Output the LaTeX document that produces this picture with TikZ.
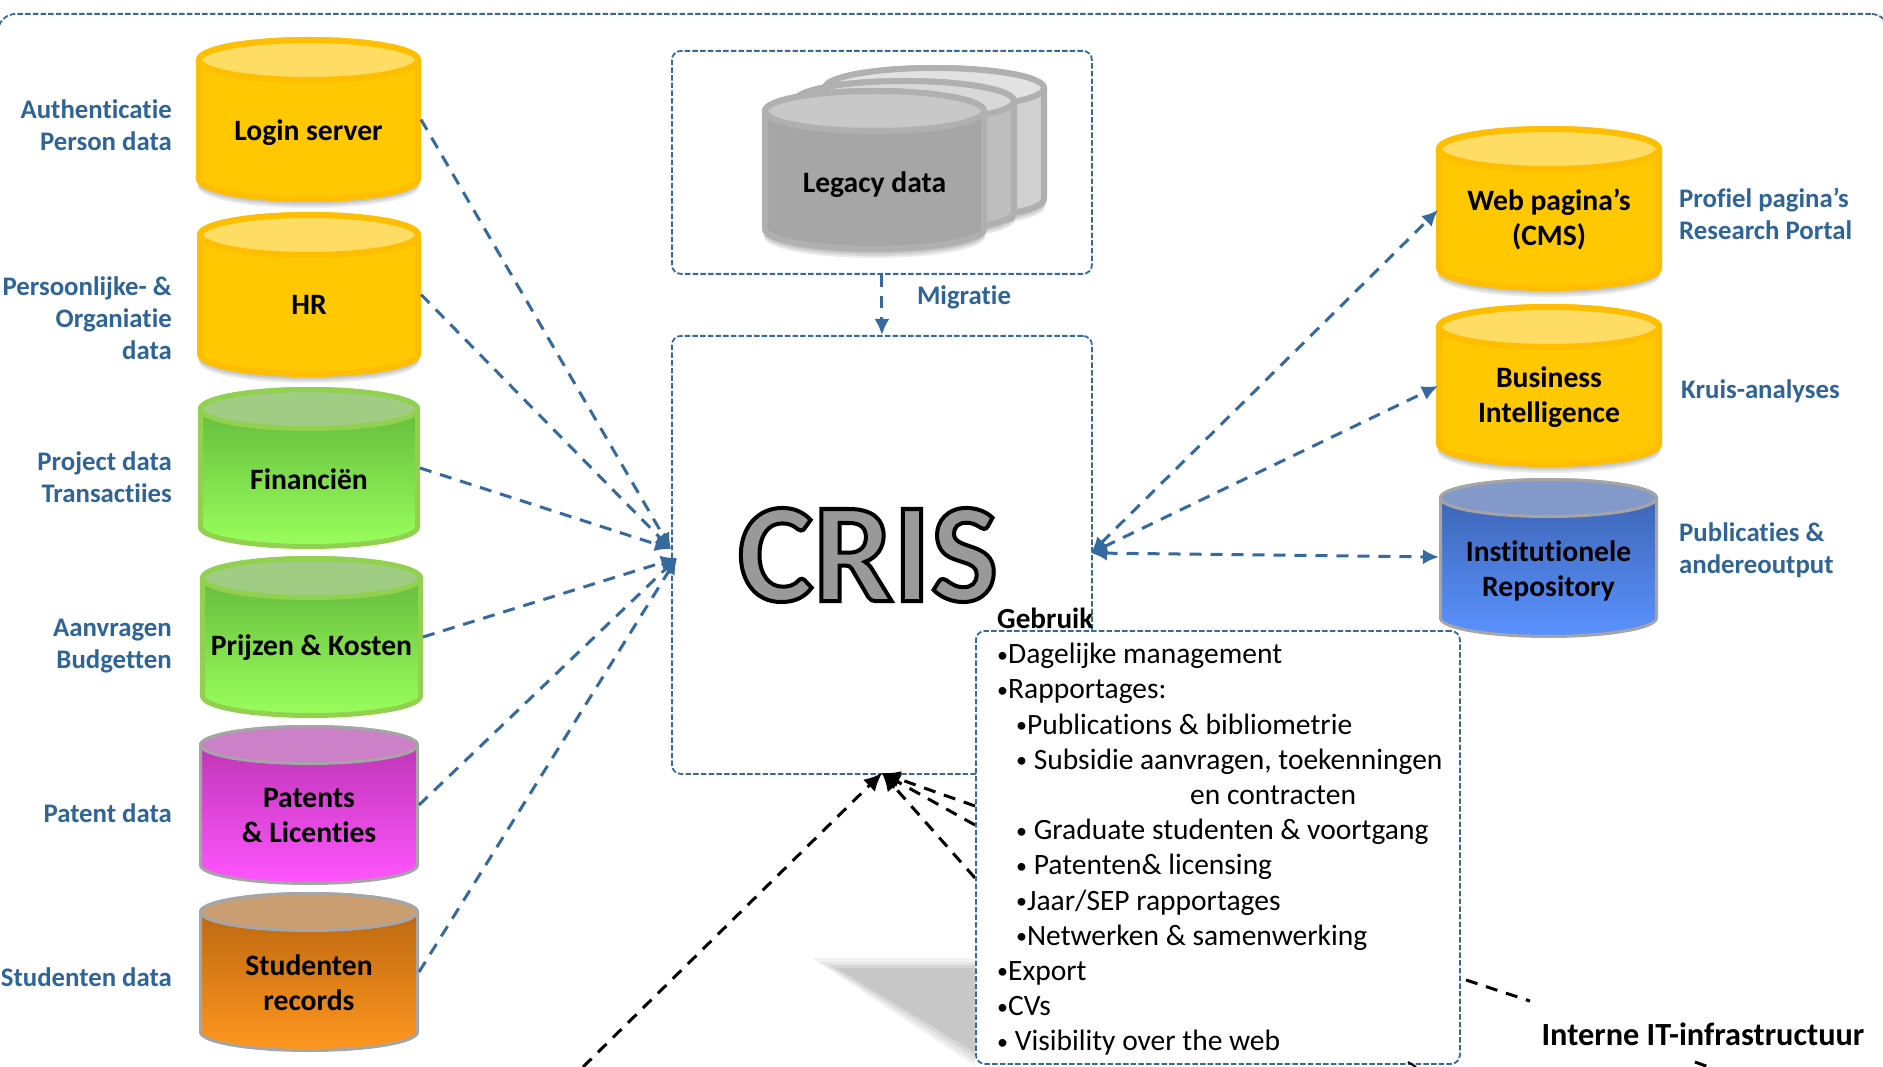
\documentclass[tikz,border=0pt]{standalone}
\usepackage{fontspec}
\setmainfont{Carlito}[Ligatures=CommonOff]
\usetikzlibrary{arrows.meta}
\definecolor{lineblue}{HTML}{366A9F}
\definecolor{textblue}{HTML}{2F6497}
% palettes: edge, top ellipse, body top, body bottom
\definecolor{yellowE}{HTML}{FFBF00}\definecolor{yellowT}{HTML}{FFDC64}\definecolor{yellowA}{HTML}{FFC800}\definecolor{yellowB}{HTML}{FFC800}
\definecolor{greenE}{HTML}{92D050}\definecolor{greenT}{HTML}{A0CC84}\definecolor{greenA}{HTML}{5FB338}\definecolor{greenB}{HTML}{99FF5C}
\definecolor{magE}{HTML}{A5A5A5}\definecolor{magT}{HTML}{CC80C8}\definecolor{magA}{HTML}{B832AE}\definecolor{magB}{HTML}{FF55FF}
\definecolor{orE}{HTML}{A5A5A5}\definecolor{orT}{HTML}{CB9E72}\definecolor{orA}{HTML}{B5620F}\definecolor{orB}{HTML}{FF971F}
\definecolor{bluE}{HTML}{A5A5A5}\definecolor{bluT}{HTML}{8299C9}\definecolor{bluA}{HTML}{3A60AE}\definecolor{bluB}{HTML}{5B92FF}
\definecolor{grayaE}{HTML}{B0B0B0}\definecolor{grayaT}{HTML}{C8C8C8}\definecolor{grayaA}{HTML}{A6A6A6}\definecolor{grayaB}{HTML}{A6A6A6}
\definecolor{graybE}{HTML}{B0B0B0}\definecolor{graybT}{HTML}{D8D8D8}\definecolor{graybA}{HTML}{BEBEBE}\definecolor{graybB}{HTML}{BEBEBE}
\definecolor{graycE}{HTML}{B0B0B0}\definecolor{graycT}{HTML}{E2E2E2}\definecolor{graycA}{HTML}{D0D0D0}\definecolor{graycB}{HTML}{D0D0D0}
\def\lwyellow{6}\def\lwgreen{5}\def\lwmag{3}\def\lwor{3}\def\lwblu{3}\def\lwgraya{6}\def\lwgrayb{6}\def\lwgrayc{6}
\def\shyellow{1}\def\shgreen{0}\def\shmag{0}\def\shor{0}\def\shblu{0}\def\shgraya{1}\def\shgrayb{1}\def\shgrayc{1}
\newcommand{\smallbul}{{\fontsize{22}{0}\selectfont\raisebox{1.5pt}{•}}}
\tikzset{
  boxline/.style={draw=lineblue,line width=1.8pt,dash pattern=on 5.5pt off 2.2pt,rounded corners=9pt},
  link/.style={draw=lineblue,line width=3pt,dash pattern=on 12pt off 9pt,-{Latex[length=16pt,width=15pt]}},
  linkboth/.style={link,{Latex[length=16pt,width=15pt]}-{Latex[length=16pt,width=15pt]}},
  blacklink/.style={draw=black,line width=3pt,dash pattern=on 12pt off 9pt},
  cyltext/.style={font=\fontsize{29.6}{35}\selectfont\bfseries,align=center,inner sep=0pt},
  sidelabel/.style={font=\fontsize{26.8}{32}\selectfont\bfseries,text=textblue,inner sep=0pt},
  leftlabel/.style={sidelabel,align=right,anchor=east},
  rightlabel/.style={sidelabel,align=left,anchor=west},
  anchorbox/.style={inner sep=0pt,outer sep=0pt},
}
% #1 name #2 x1 #3 x2 #4 y1 #5 y2 #6 palette #7 outer ry #8 text y #9 text
\newcommand{\dbcyl}[9]{%
  \pgfmathsetmacro\cylL{\csname lw#6\endcsname}%
  \pgfmathsetmacro\cylxa{#2+\cylL/2}%
  \pgfmathsetmacro\cylxb{#3-\cylL/2}%
  \pgfmathsetmacro\cylya{#4+#7}%
  \pgfmathsetmacro\cylyb{#5-#7}%
  \pgfmathsetmacro\cylcx{(#2+#3)/2}%
  \pgfmathsetmacro\cylrx{(#3-#2-\cylL)/2}%
  \pgfmathsetmacro\cylrr{#7-\cylL/2}%
  \pgfmathsetmacro\cylmid{(#4+#5)/2}%
  \pgfmathsetmacro\cylw{#3-#2}%
  \pgfmathsetmacro\cylh{#5-#4}%
  \if1\csname sh#6\endcsname
    \foreach \cyls in {2,4,6,8}{
      \fill[black,opacity=.08] (\cylxa-1,\cylya+\cyls) -- (\cylxa-1,\cylyb+\cyls) arc[start angle=180,end angle=0,x radius=\cylrx+1,y radius=\cylrr+1] -- (\cylxb+1,\cylya+\cyls) -- cycle;
    }
  \fi
  \path[draw=#6E,line width=\cylL pt,top color=#6A,bottom color=#6B,line join=round]
    (\cylxa,\cylya) -- (\cylxa,\cylyb) arc[start angle=180,end angle=0,x radius=\cylrx,y radius=\cylrr]
    -- (\cylxb,\cylya) arc[start angle=0,end angle=-180,x radius=\cylrx,y radius=\cylrr] -- cycle;
  \path[draw=#6E,line width=\cylL pt,fill=#6T] (\cylcx,\cylya) ellipse[x radius=\cylrx,y radius=\cylrr];
  \node[anchorbox,minimum width=\cylw pt,minimum height=\cylh pt] (#1) at (\cylcx,\cylmid) {};
  \node[cyltext] (#1-t) at (\cylcx,#8) {#9};
}
\begin{document}
\begin{tikzpicture}[x=1pt,y=-1pt]
\useasboundingbox (0,0) rectangle (1883,1067);
\clip (0,0) rectangle (1883,1067);
\fill[white] (0,0) rectangle (1883,1067);
% outer frame
\node[boxline,rounded corners=18pt,minimum width=1891pt,minimum height=1100pt,anchor=north west,inner sep=0pt] (frame) at (-3,13) {};
% shadow wedge under the list box
\fill[black!5] (812,958) -- (975,958) -- (975,1066) -- cycle;
\fill[black!10] (820,962) -- (975,962) -- (975,1062) -- cycle;
\fill[black!16] (828,965) -- (975,965) -- (975,1057) -- cycle;
\fill[black!22] (836,968) -- (975,968) -- (975,1052) -- cycle;
% left column
\dbcyl{login}{196}{421}{37}{202}{yellow}{23}{133}{Login server}
\dbcyl{hr}{197}{421}{212}{377}{yellow}{23}{305}{HR}
\dbcyl{fin}{198}{420}{387}{549}{green}{22}{479}{Financiën}
\dbcyl{prijs}{200}{423}{556}{718}{green}{22}{648}{Prijzen \& Kosten}
\dbcyl{pat}{199}{419}{725}{885}{mag}{20}{816}{Patents\\\& Licenties}
\dbcyl{stud}{199}{419}{892}{1052}{or}{20}{983}{Studenten\\records}
% legacy stack
\dbcyl{legacyc}{822}{1047}{65}{222}{grayc}{23}{140}{}
\dbcyl{legacyb}{792}{1017}{78}{235}{grayb}{23}{150}{}
\dbcyl{legacya}{762}{987}{88}{252}{graya}{23}{185}{Legacy data}
% right column
\dbcyl{web}{1436}{1662}{126}{291}{yellow}{23}{219}{Web pagina’s\\(CMS)}
\dbcyl{bi}{1436}{1662}{304}{467}{yellow}{23}{397}{Business\\Intelligence}
\dbcyl{ir}{1439}{1658}{478}{638}{blu}{20}{571}{Institutionele\\Repository}
% boxes
\node[boxline,minimum width=420pt,minimum height=223pt,anchor=north west,inner sep=0pt] (legacybox) at (671,50) {};
\node[boxline,minimum width=420pt,minimum height=438pt,anchor=north west,inner sep=0pt] (crisbox) at (671,335) {};
\draw[link] (legacybox.south) -- (crisbox.north);
\node[sidelabel] (migr) at (964,297) {Migratie};
% CRIS title
\node[inner sep=0pt,font=\fontsize{142}{142}\selectfont\bfseries] (cris) at (868,555)
  {\special{pdf:code 2 Tr 4 w 0 0 0 RG 0.6 0.6 0.6 rg}CRIS\special{pdf:code 0 Tr}};
% hubs
\coordinate (hubl) at (677,558);
\coordinate (hubla) at (671,549);
\coordinate (hubr) at (1091,553);
\draw[link] (login.east) -- (hubla);
\draw[link] (hr.east) -- (hubla);
\draw[link] (fin.east) -- (hubla);
\draw[link] (prijs.east) -- (hubl);
\draw[link] (pat.east) -- (hubl);
\draw[link] (stud.east) -- (hubl);
\coordinate (webend) at (1438,210);
\coordinate (biend) at (1438,386);
\coordinate (irend) at (1439,557);
\draw[linkboth] (hubr) -- (webend);
\draw[linkboth] (hubr) -- (biend);
\draw[linkboth] (hubr) -- (irend);
% black arrows to CRIS
\coordinate (tip) at (882,773);
\coordinate (fromall) at (583,1067);
\coordinate (froma) at (975,806);
\coordinate (fromb) at (975,825);
\coordinate (fromc) at (975,878);
\foreach \blackfrom in {fromall,froma,fromb,fromc}
  \draw[blacklink,-{Latex[length=18pt,width=17pt]}] (\blackfrom) -- (tip);
% usage box
\node[boxline,fill=white,minimum width=484pt,minimum height=433pt,anchor=north west,inner sep=0pt] (usebox) at (975,630) {};
\node[anchor=base west,inner sep=0pt,font=\fontsize{29.2}{35}\selectfont\bfseries] (gebruik) at (997,628) {Gebruik};
\node[anchor=north west,inner sep=0pt,align=left,font=\fontsize{29.5}{35.2}\selectfont] (uselist) at (997,643) {%
\smallbul Dagelijke management\\
\smallbul Rapportages:\\
\hspace*{19pt}\smallbul Publications \& bibliometrie\\
\hspace*{19pt}\smallbul{} Subsidie aanvragen, toekenningen\\
\hspace*{193pt}en contracten\\
\hspace*{19pt}\smallbul{} Graduate studenten \& voortgang\\
\hspace*{19pt}\smallbul{} Patenten\& licensing\\
\hspace*{19pt}\smallbul Jaar/SEP rapportages\\
\hspace*{19pt}\smallbul Netwerken \& samenwerking\\
\smallbul Export\\
\smallbul CVs\\
\smallbul{} Visibility over the web};
% black dashes toward the IT label
\node[inner sep=0pt,font=\fontsize{32.3}{35}\selectfont\bfseries] (itlabel) at (1703,1034) {Interne IT-infrastructuur};
\coordinate (ita) at (1466,980);
\coordinate (itb) at (1530,1001);
\draw[blacklink] (ita) -- (itb);
\coordinate (itc) at (1695,1062);
\coordinate (itd) at (1714,1069);
\draw[blacklink] (itc) -- (itd);
\coordinate (tica) at (1408,1062);
\coordinate (ticb) at (1416,1067);
\draw[black,line width=2pt] (tica) -- (ticb);
% left labels
\node[leftlabel] (lb1) at (172,125.5) {Authenticatie\\Person data};
\node[leftlabel] (lb2) at (172,318) {Persoonlijke- \&\\Organiatie\\data};
\node[leftlabel] (lb3) at (172,477) {Project data\\Transactiies};
\node[leftlabel] (lb4) at (172,646) {Aanvragen\\Budgetten};
\node[leftlabel] (lb5) at (172,813) {Patent data};
\node[leftlabel] (lb6) at (172,977) {Studenten data};
% right labels
\node[rightlabel] (rb1) at (1679,214) {Profiel pagina’s\\Research Portal};
\node[rightlabel] (rb2) at (1681,391) {Kruis-analyses};
\node[rightlabel] (rb3) at (1679,550) {Publicaties \&\\andereoutput};
\end{tikzpicture}
\end{document}
